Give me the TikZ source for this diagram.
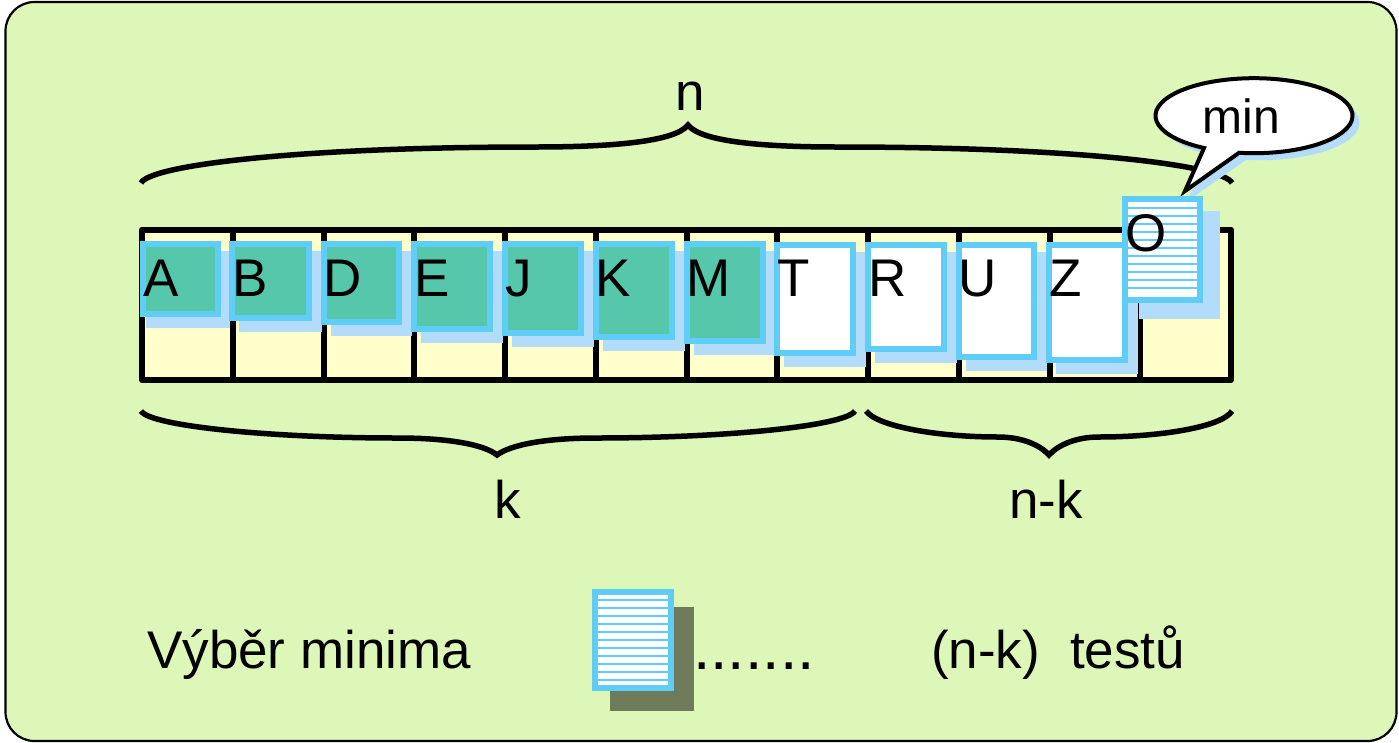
\documentclass[tikz,border=0pt]{standalone}
\usepackage{fontspec}
\setmainfont{Liberation Sans}
\definecolor{panelgreen}{HTML}{DCF7B8}
\definecolor{cellyellow}{HTML}{FFFFCC}
\definecolor{cardblue}{HTML}{5FCDF5}
\definecolor{shadowblue}{HTML}{B3DCFB}
\definecolor{donegreen}{HTML}{57C7AB}
\definecolor{darkshadow}{HTML}{6D7B5B}
\tikzset{
  panel/.style={draw=black,line width=2.2pt,fill=panelgreen,rounded corners=29pt},
  gridline/.style={draw=black,line width=6pt},
  brace/.style={draw=black,line width=5.5pt,line cap=butt},
  cardedge/.style={draw=cardblue,line width=6pt},
  cardshadow/.style={fill=shadowblue,draw=none},
  letter/.style={anchor=base west,inner sep=0pt,font=\fontsize{53}{60}\selectfont},
  caption/.style={anchor=base,inner sep=0pt,font=\fontsize{48}{60}\selectfont},
  stripe/.style={draw=cardblue,line width=2pt},
}
% left, right, top, bottom, fill colour
\newcommand{\cardat}[5]{%
  \fill[cardshadow] ({#1+10},{#3+10}) rectangle ({#2+10},{#4+11});
  \draw[cardedge,fill=#5] ({#1+3},{#3+3}) rectangle ({#2-3},{#4-3});
}
% left, right, first y
\newcommand{\stripes}[3]{%
  \foreach \s in {0,...,10} \draw[stripe] (#1,{#3+8*\s}) -- (#2,{#3+8*\s});
}
\begin{document}
\begin{tikzpicture}[x=1pt,y=-1pt]
\useasboundingbox (0,0) rectangle (1399,742);
\fill[white] (0,0) rectangle (1399,742);
\draw[panel] (5.5,2) rectangle (1396.5,741);
% cells
\fill[cellyellow] (142,229.5) rectangle (1231,380);
\foreach \i in {1,...,11} \draw[gridline] ({142+90.75*\i},229.5) -- ({142+90.75*\i},380);
\draw[gridline,line join=round] (142,229.5) rectangle (1231,380);
% braces
\draw[brace] (141,183) .. controls (150,165) and (300,147) .. (535,147)
  .. controls (610,147) and (675,142) .. (688,125)
  .. controls (701,142) and (765,147) .. (838,147)
  .. controls (1075,147) and (1223,165) .. (1232,183);
\draw[brace] (141,411) .. controls (150,426) and (270,438) .. (398,438)
  .. controls (450,438) and (485,445) .. (497,455)
  .. controls (510,445) and (545,438) .. (596,438)
  .. controls (725,438) and (845,426) .. (855,411);
\draw[brace] (866,411) .. controls (878,427) and (940,437) .. (998,437)
  .. controls (1022,437) and (1040,445) .. (1049,455)
  .. controls (1058,445) and (1076,437) .. (1099,437)
  .. controls (1160,437) and (1222,427) .. (1232,411);
% cards
\fill[cardshadow] (146,251) rectangle (230,328);
\draw[cardedge,fill=donegreen] (143,244) rectangle (218,314);
\cardat{229}{312}{241}{321}{donegreen}
\cardat{321}{402}{241}{325}{donegreen}
\cardat{411}{493}{241}{332}{donegreen}
\cardat{502}{584}{241}{336}{donegreen}
\cardat{593}{675}{241}{340}{donegreen}
\cardat{684}{766}{241}{344}{donegreen}
\cardat{774}{856}{242}{356}{white}
\cardat{865}{947}{242}{352}{white}
\cardat{956}{1037}{242}{360}{white}
\cardat{1046}{1128}{242}{363}{white}
% callout
\path[fill=shadowblue] (1211,155) arc[start angle=120.5,end angle=458.7,x radius=98.5,y radius=37.5] -- (1186,202) -- cycle;
\path[draw=black,line width=4pt,fill=white,miter limit=10] (1204,148) arc[start angle=120.5,end angle=458.7,x radius=98.5,y radius=37.5] -- (1185,191) -- cycle;
% selected card O
\fill[cardshadow] (1139,211) rectangle (1220,319);
\draw[cardedge,fill=white] (1125,199) rectangle (1200,300);
\stripes{1128}{1197}{208}
% legend card
\fill[darkshadow] (610,607) rectangle (694,711);
\draw[cardedge,fill=white] (595,592) rectangle (671,688);
\stripes{598}{668}{600}
% letters
\node[letter] (la) at (143,296) {A};
\node[letter] (lb) at (232.75,296) {B};
\node[letter] (ld) at (323.5,296) {D};
\node[letter] (le) at (414.25,296) {E};
\node[letter] (lj) at (505,296) {J};
\node[letter] (lk) at (595.75,296) {K};
\node[letter] (lm) at (686.5,296) {M};
\node[letter] (lt) at (777.25,296) {T};
\node[letter] (lr) at (868.5,296) {R};
\node[letter] (lu) at (958.75,296) {U};
\node[letter] (lz) at (1049.5,296) {Z};
\node[letter] (lo) at (1125,251) {O};
\node[caption] (tmin) at (1241.5,133) {min};
\node[letter,anchor=base] (tn) at (690,110) {n};
\node[letter,anchor=base] (tk) at (508,518) {k};
\node[letter,anchor=base] (tnk) at (1046,518) {n-k};
\node[letter] (tvyber) at (147,668) {Výběr minima};
\node[inner sep=0pt,anchor=base west,font=\fontsize{62.5}{70}\selectfont] (tdots) at (693,669) {.......};
\node[letter] (ttests) at (931,668) {(n-k)\hspace{30pt}testů};
\end{tikzpicture}
\end{document}
